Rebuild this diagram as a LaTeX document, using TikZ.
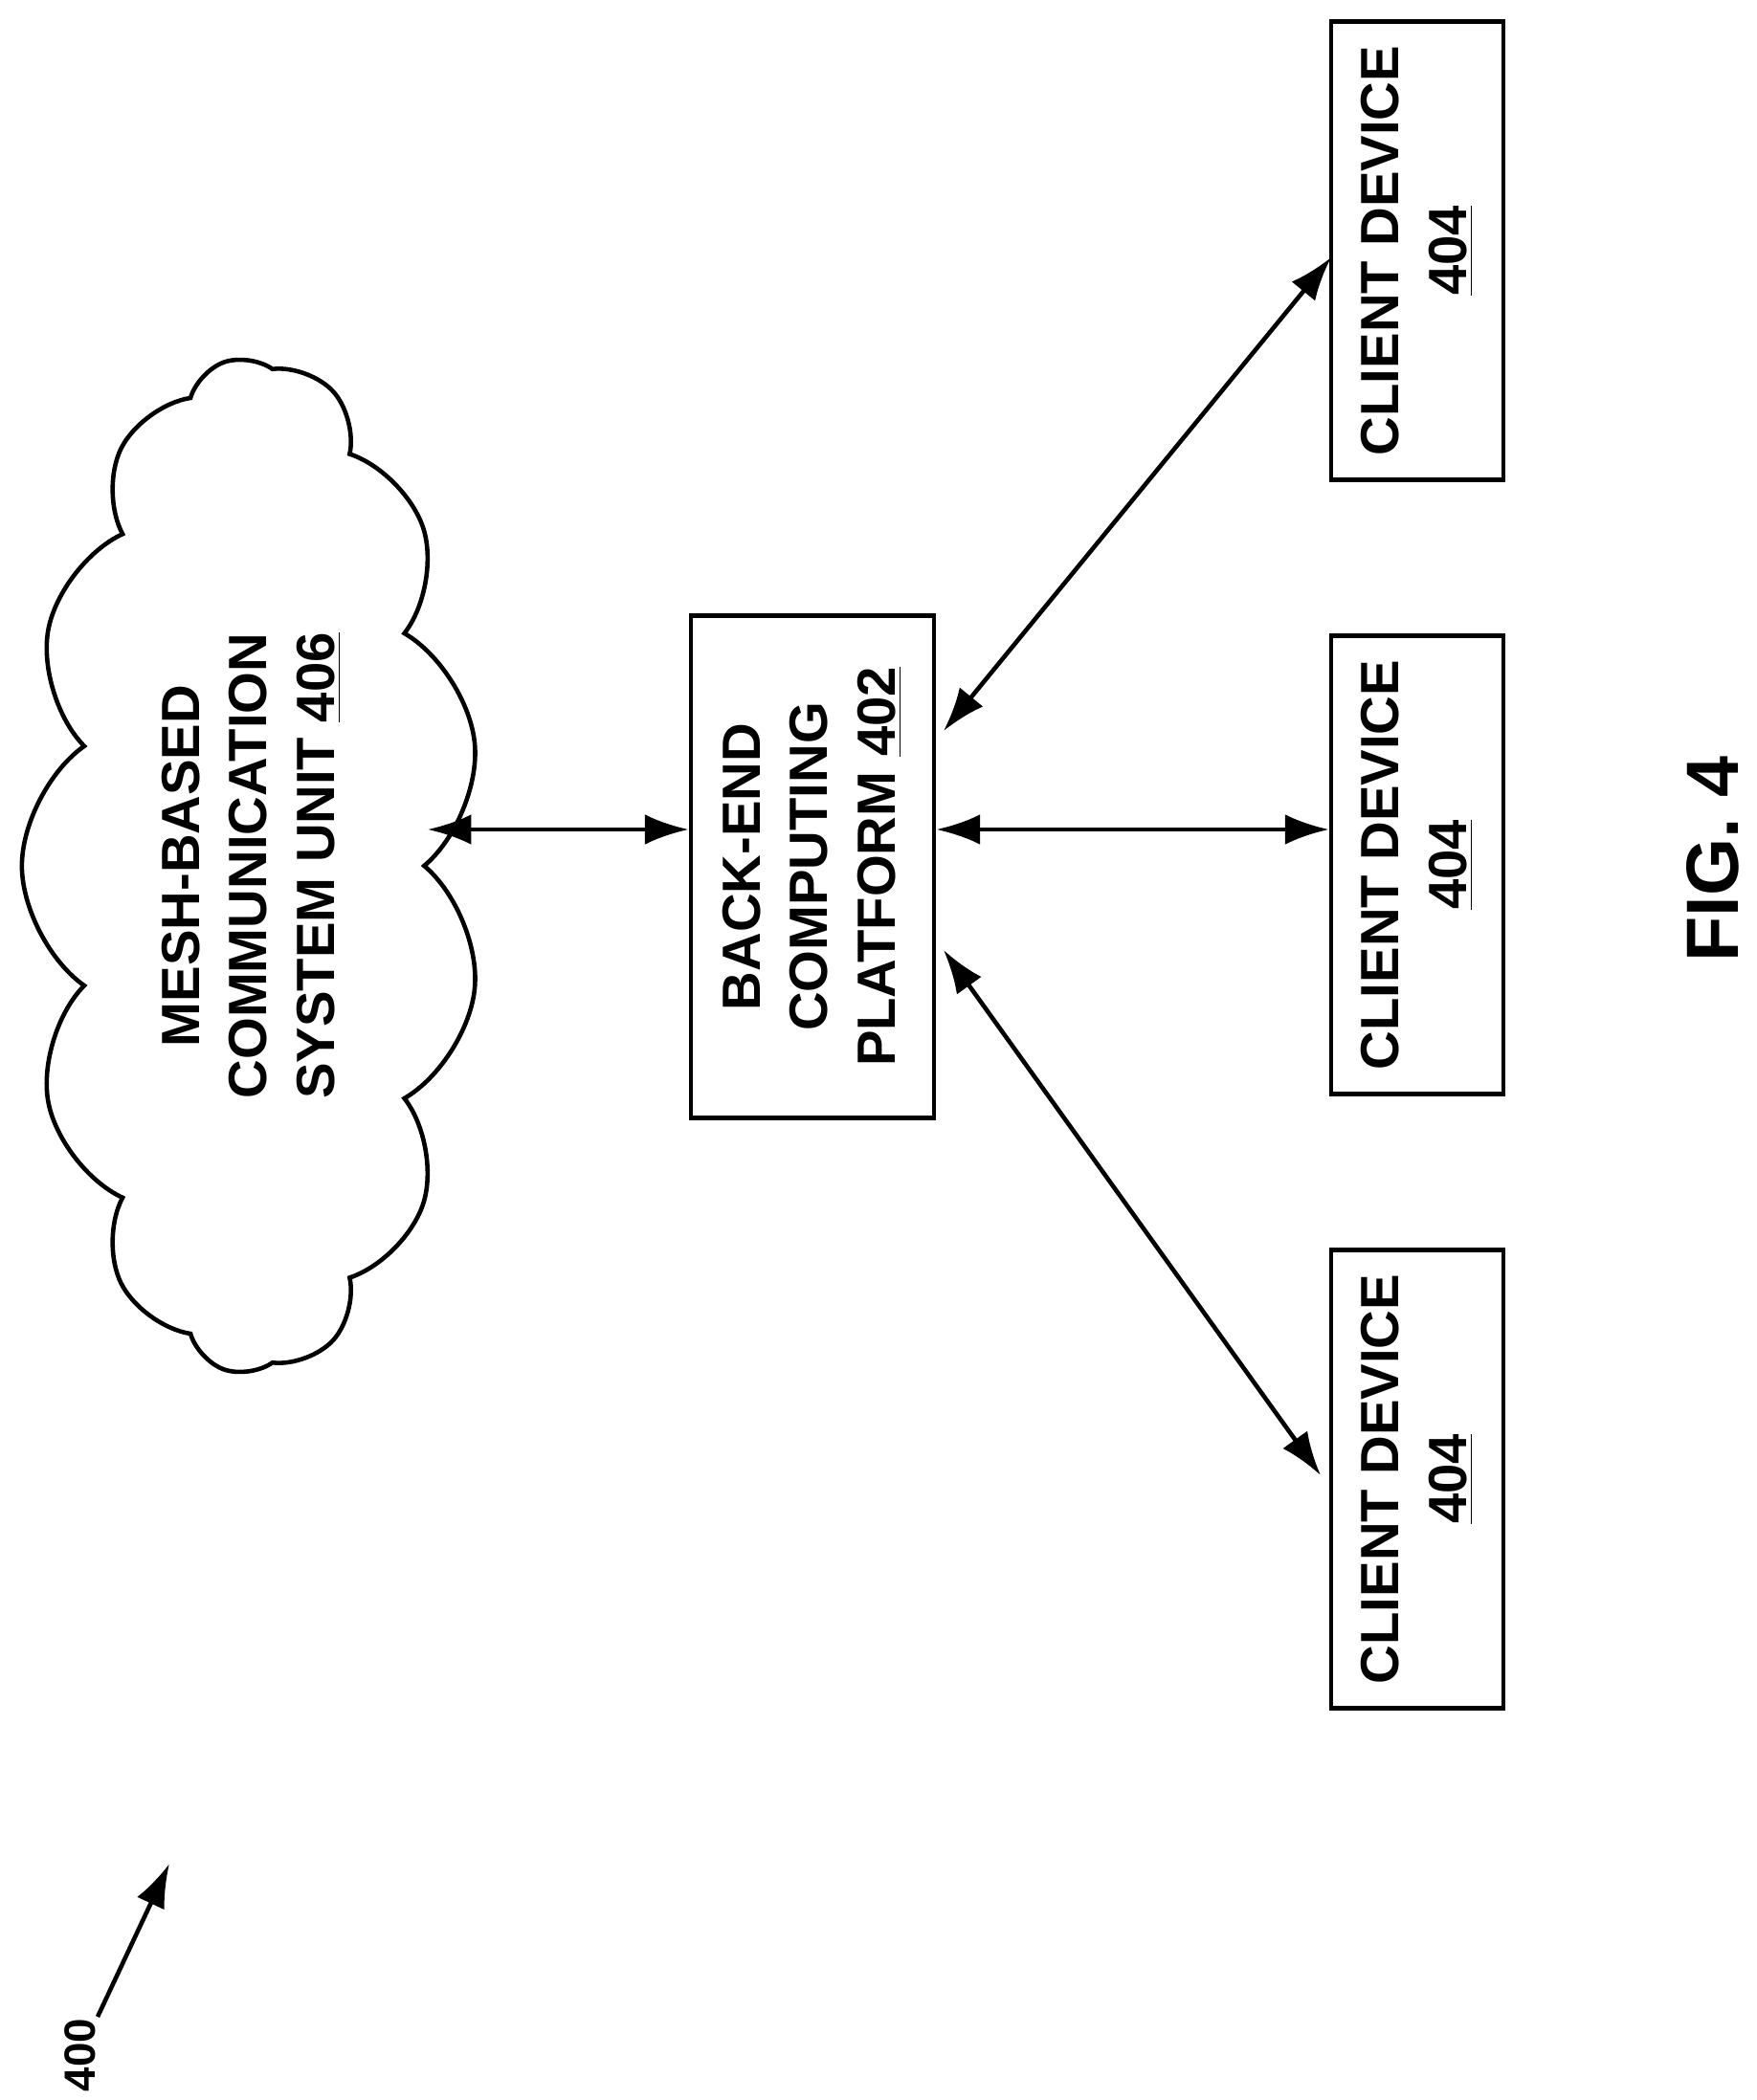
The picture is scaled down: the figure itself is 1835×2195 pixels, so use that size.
\documentclass[tikz,border=0pt]{standalone}
\usepackage{fontspec}
\setmainfont{Liberation Sans}
\usetikzlibrary{shapes.symbols,arrows.meta}
\begin{document}
\begin{tikzpicture}[x=0.01cm,y=-0.01cm,
  box/.style={draw,line width=1.3pt,rotate=90,align=center,font=\fontsize{16}{20}\selectfont\bfseries},
  con/.style={line width=1.3pt,{Latex[length=13pt,width=9pt]}-{Latex[length=13pt,width=9pt]}}]
\useasboundingbox (0,0) rectangle (1835,2195);
\node[box,minimum width=5.25cm,minimum height=2.54cm] (be) at (849,906) {BACK-END\\COMPUTING\\PLATFORM \underline{402}};
\node[box,minimum width=4.79cm,minimum height=1.8cm] (c1) at (1481,262) {CLIENT DEVICE\\\underline{404}};
\node[box,minimum width=4.79cm,minimum height=1.8cm] (c2) at (1481,904) {CLIENT DEVICE\\\underline{404}};
\node[box,minimum width=4.79cm,minimum height=1.8cm] (c3) at (1481,1546) {CLIENT DEVICE\\\underline{404}};
\node[box,shape=cloud,cloud puffs=13,cloud puff arc=110,cloud ignores aspect,inner sep=0pt,minimum width=10.6cm,minimum height=4.8cm] (cl) at (263,905) {MESH-BASED\\COMMUNICATION\\SYSTEM UNIT \underline{406}};
\draw[con] (cl.south |- 0,867) -- (be.north |- 0,867);
\draw[con] (be.south |- 0,867) -- (c2.north |- 0,867);
\draw[con] (986,764) -- (1391,269);
\draw[con] (986,993) -- (1380,1542);
\node[rotate=90,font=\fontsize{22}{26}\selectfont\bfseries] (fig) at (1790,898) {FIG. 4};
\node[rotate=90,font=\fontsize{13}{16}\selectfont\bfseries] (lbl) at (84,2148) {400};
\coordinate (a1) at (102,2108);
\coordinate (a2) at (177,1948);
\draw[line width=1.3pt,-{Latex[length=13pt,width=9pt]}] (a1) -- (a2);
\end{tikzpicture}
\end{document}
